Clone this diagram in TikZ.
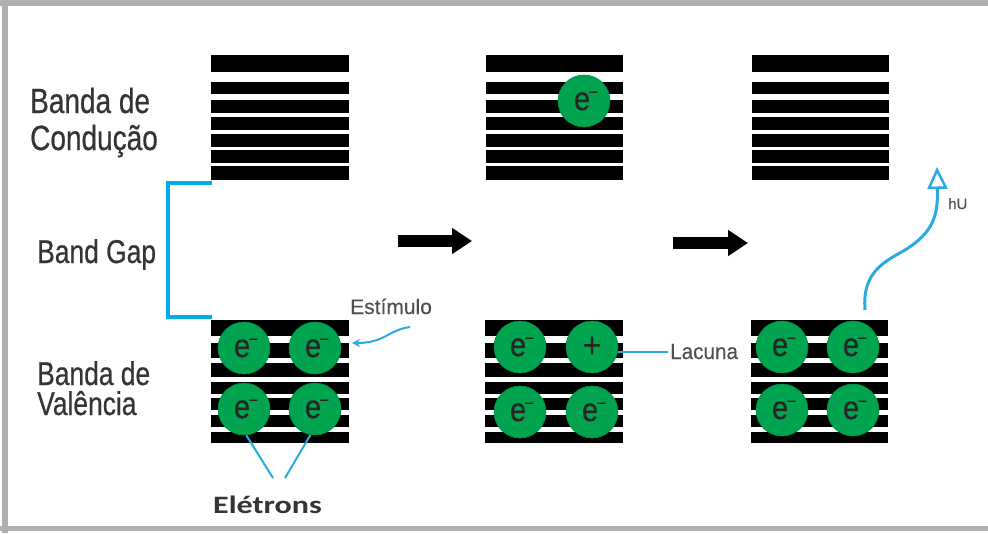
\documentclass[tikz,border=0pt]{standalone}
\usepackage{fontspec}
\setmainfont{Liberation Sans}
\newfontfamily\narrowfont[FakeStretch=0.8,FakeBold=0.5]{Liberation Sans}
\newfontfamily\lacfont[FakeStretch=0.94,FakeBold=0.3]{Liberation Sans}
\newfontfamily\notefont[FakeBold=0.3]{Liberation Sans}
\newfontfamily\elfont[FakeStretch=1.28]{Carlito}
\newfontfamily\efont[FakeStretch=0.88,FakeBold=0.6]{Liberation Sans}
\usetikzlibrary{arrows.meta}
\definecolor{eblue}{RGB}{41,171,226}
\definecolor{bblue}{RGB}{0,170,238}
\definecolor{egreen}{RGB}{0,163,78}
\definecolor{txt}{RGB}{52,52,52}
\definecolor{txtl}{RGB}{80,80,80}
\definecolor{framegray}{RGB}{175,175,175}
\newcommand{\elec}{\kern0.12em e\raisebox{0.36em}{\fontsize{18}{18}\selectfont\kern-0.08em\char"2212}}
\begin{document}
\begin{tikzpicture}[x=1pt,y=-1pt,
  bandbar/.style={fill=black},
  elec/.style={circle, fill=egreen, draw=egreen!85!black, line width=0.6pt,
    minimum size=52pt, inner sep=0pt, text=black!85,
    font=\efont\fontsize{33}{33}\selectfont},
  biglbl/.style={inner sep=0pt, text=txt, font=\narrowfont\fontsize{35}{35}\selectfont},
  gaplbl/.style={inner sep=0pt, text=txt, font=\narrowfont\fontsize{33}{33}\selectfont},
  note/.style={inner sep=0pt, text=txtl},
  pointer/.style={draw=eblue, line width=2pt},
  stagearrow/.style={line width=12pt, -{Triangle[length=20pt,width=25pt]}}
]
\useasboundingbox (0,0) rectangle (988,533);
% frame
\fill[framegray] (0,0) rectangle (988,6);
\fill[framegray] (2,0) rectangle (8,533);
\fill[framegray] (0,526) rectangle (988,531);
\fill[white] (8,6) rectangle (988,526);

% conduction bands
\foreach \xa/\xb in {211/349, 486/623, 752/889}{
  \foreach \ya/\yb in {55/72, 82/94, 100/113, 117/130, 134/147, 150/163, 166/180}{
    \fill[bandbar] (\xa,\ya) rectangle (\xb,\yb);
  }
}
% valence bands
\foreach \xa/\xb in {211/349, 485/623, 751/888}{
  \foreach \ya/\yb in {320/336, 343/358, 363/377, 382/394, 398/410, 415/427, 432/443}{
    \fill[bandbar] (\xa,\ya) rectangle (\xb,\yb);
  }
}

% electrons
\node[elec] (e11) at (244,348) {\elec};
\node[elec] (e12) at (315,348) {\elec};
\node[elec] (e13) at (244,409) {\elec};
\node[elec] (e14) at (315,409) {\elec};

\node[elec] (e21) at (520,347) {\elec};
\node[elec, font=\efont\fontsize{36}{36}\selectfont] (e22) at (592,347) {+};
\node[elec] (e23) at (520,412) {\elec};
\node[elec] (e24) at (592,412) {\elec};

\node[elec] (e31) at (782,347) {\elec};
\node[elec] (e32) at (853,347) {\elec};
\node[elec] (e33) at (782,410) {\elec};
\node[elec] (e34) at (853,410) {\elec};

\node[elec] (ec) at (584,101) {\elec};

% labels
\node[biglbl, anchor=base west] (cond1) at (30,113) {Banda de};
\node[biglbl, anchor=base west] (cond2) at (30,150) {Condução};
\node[gaplbl, anchor=base west] (gap) at (37,263) {Band Gap};
\node[gaplbl, anchor=base west] (val1) at (37,385) {Banda de};
\node[gaplbl, anchor=base west] (val2) at (37,415) {Valência};
\node[note, anchor=base west, font=\notefont\fontsize{21}{21}\selectfont] (estim) at (350,314) {Estímulo};
\node[note, anchor=base west, font=\lacfont\fontsize{22}{22}\selectfont, inner sep=2pt] (lac) at (668,359) {Lacuna};
\node[note, anchor=base west, font=\notefont\fontsize{15}{15}\selectfont] (hu) at (948,209) {hU};
\node[inner sep=0pt, anchor=base west, text=txt, font=\elfont\bfseries\fontsize{25}{25}\selectfont] (eletr) at (213,513) {Elétrons};

% band gap bracket
\draw[bblue, line width=4pt] (212,183) -| (168,317) -- (212,317);

% stage arrows
\coordinate (a1s) at (398,241);
\coordinate (a1e) at (472,241);
\coordinate (a2s) at (673,243);
\coordinate (a2e) at (748,243);
\draw[stagearrow] (a1s) -- (a1e);
\draw[stagearrow] (a2s) -- (a2e);

% stimulus pointer
\coordinate (stimA) at (410,327);
\coordinate (stimB) at (352,343);
\draw[pointer, -{Stealth[length=8pt,width=8pt]}] (stimA) .. controls (388,330) and (385,343) .. (stimB);

% hole pointer
\draw[pointer] (lac.west) -- (e22.east |- lac.west);

% electron pointers
\coordinate (elL) at (273,478);
\coordinate (elR) at (285,478);
\draw[pointer] (e13.-85) -- (elL);
\draw[pointer] (e14.-100) -- (elR);

% emitted photon
\coordinate (phA) at (865,310);
\coordinate (phB) at (937,167);
\draw[draw=eblue, line width=3pt, -{Triangle[open, length=22pt, width=20pt, line width=2.5pt]}]
  (phA) .. controls (862,272) and (884,262) .. (905,250)
        .. controls (934,232) and (938,215) .. (phB);
\end{tikzpicture}
\end{document}
